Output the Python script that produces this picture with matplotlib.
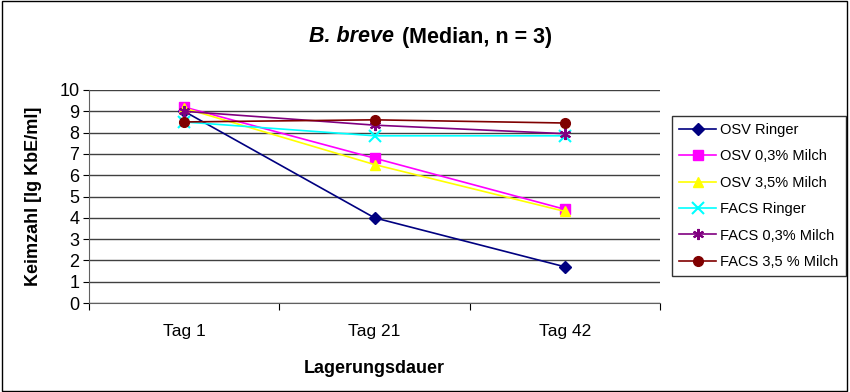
import matplotlib
matplotlib.use('Agg')
import matplotlib.pyplot as plt
from matplotlib.patches import Rectangle

plt.rcParams['font.family'] = ['Liberation Sans', 'DejaVu Sans']

days = ['Tag 1', 'Tag 21', 'Tag 42']
osv_ringer = [9.0, 4.0, 1.7]
osv_03 = [9.2, 6.8, 4.4]
osv_35 = [9.15, 6.5, 4.3]
facs_ringer = [8.5, 7.85, 7.85]
facs_03 = [9.0, 8.35, 7.95]
facs_35 = [8.5, 8.6, 8.45]

series = [
    ('OSV Ringer', osv_ringer, '#000080', 'D', 6),
    ('OSV 0,3% Milch', osv_03, '#FF00FF', 's', 7),
    ('OSV 3,5% Milch', osv_35, '#FFFF00', '^', 7),
    ('FACS Ringer', facs_ringer, '#00FFFF', 'x', 8),
    ('FACS 0,3% Milch', facs_03, '#800080', (6, 2, 0), 8),
    ('FACS 3,5 % Milch', facs_35, '#800000', 'o', 7),
]

fig = plt.figure(figsize=(8.5, 3.92), dpi=100)
ax = fig.add_axes([89 / 850, 1 - 303 / 392, 571 / 850, 213 / 392])

x = [0.5, 1.5, 2.5]
for label, vals, color, marker, ms in series:
    kw = {}
    if marker in ('x', (6, 2, 0)):
        kw['markeredgewidth'] = 1.5
    ax.plot(x, vals, color=color, marker=marker, markersize=ms, lw=1.2,
            label=label, **kw)

ax.set_xlim(0, 3)
ax.set_ylim(0, 10)
ax.set_yticks(range(0, 11))
ax.set_xticks([0, 1, 2, 3])
ax.set_xticklabels([])
ax.set_xticks(x, minor=True)
ax.set_xticklabels(days, minor=True)
ax.tick_params(axis='x', which='minor', length=0, labelsize=12.5, pad=15)
ax.tick_params(axis='x', which='major', length=5, direction='out')
ax.tick_params(axis='y', labelsize=13, length=4, pad=3)
ax.grid(axis='y', color='#404040', lw=1)
ax.set_axisbelow(True)
for s in ['top', 'right']:
    ax.spines[s].set_visible(False)
ax.spines['left'].set_color('#606060')
ax.spines['bottom'].set_color('#606060')

ax.set_ylabel('Keimzahl [lg KbE/ml]', fontsize=13, fontweight='bold', labelpad=12)
ax.set_xlabel('Lagerungsdauer', fontsize=13, fontweight='bold', labelpad=15)

fig.text(394 / 850, 1 - 37 / 392, 'B. breve', fontsize=15.5, fontweight='bold',
         fontstyle='italic', ha='right', va='center')
fig.text(402 / 850, 1 - 37 / 392, '(Median, n = 3)', fontsize=15.5,
         fontweight='bold', ha='left', va='center')

leg = ax.legend(loc='center left', bbox_to_anchor=(672 / 850, 1 - 196 / 392),
                bbox_transform=fig.transFigure, fontsize=10.5, frameon=True,
                fancybox=False, edgecolor='black', labelspacing=0.85,
                handlelength=2.5, handletextpad=0.3, borderpad=0.5,
                borderaxespad=0)
leg.get_frame().set_linewidth(1)

fig.patches.append(Rectangle((0.002, 0.003), 0.995, 0.994, transform=fig.transFigure,
                             fill=False, edgecolor='black', lw=1))

fig.savefig('out.png', dpi=100)
